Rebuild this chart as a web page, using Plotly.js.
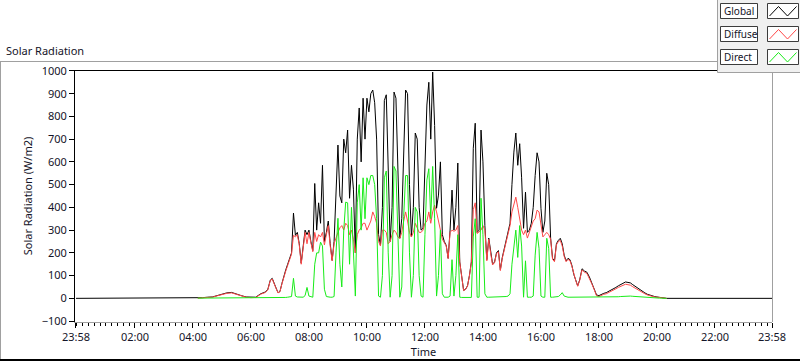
<!DOCTYPE html>
<html>
<head>
<meta charset="utf-8">
<script src="https://cdn.plot.ly/plotly-3.0.1.min.js"></script>
<style>
html,body{margin:0;padding:0;background:#fff;}
#chart{width:800px;height:361px;}
</style>
</head>
<body>
<div id="chart"></div>
<script>
// ---- Data (minutes after midnight, W/m2) ----
var minutes = [-2, 240, 250, 260, 270, 280, 290, 300, 310, 320, 330, 340, 350, 360, 370, 380, 390, 395,
  400, 404, 408, 412, 416, 420, 424, 428, 432, 436, 440, 444,
  448, 452, 456, 460, 464, 468, 472, 476, 480, 484, 488, 492,
  496, 500, 504, 508, 512, 516, 520, 524, 528, 532, 536, 540,
  544, 548, 552, 556, 560, 564, 568, 572, 576, 580, 584, 588,
  592, 596, 600, 604, 608, 612, 616, 620, 624, 628, 632, 636,
  640, 644, 648, 652, 656, 660, 664, 668, 672, 676, 680, 684,
  688, 692, 696, 700, 704, 708, 712, 716, 720, 724, 728, 732,
  736, 740, 744, 748, 752, 756, 760, 764, 768, 772, 776, 780,
  784, 788, 792, 796, 800, 804, 808, 812, 816, 820, 824, 828,
  832, 836, 840, 844, 848, 852, 856, 860, 864, 868, 872, 876,
  880, 884, 888, 892, 896, 900, 904, 908, 912, 916, 920, 924,
  928, 932, 936, 940, 944, 948, 952, 956, 960, 964, 968, 972,
  976, 980, 984, 988, 992, 996, 1000, 1004, 1008, 1012, 1016, 1020,
  1024, 1028, 1032, 1036, 1040,
  1045, 1050, 1055, 1060, 1065, 1070, 1075, 1080, 1085, 1090,
  1095, 1100, 1105, 1110, 1115, 1120, 1125, 1130, 1135, 1140,
  1145, 1150, 1155, 1160, 1165, 1170, 1175, 1180, 1185, 1190,
  1195, 1200, 1205, 1210, 1215, 1220, 1438];

var globalRad = [0, 0, 2, 3, 5, 6, 12, 18, 24, 26, 18, 12, 6, 4, 5, 20, 28, 40,
  80, 88, 70, 45, 25, 30, 65, 100, 125, 150, 175, 200,
  375, 277, 290, 240, 155, 230, 300, 280, 300, 250, 210, 505,
  300, 420, 330, 585, 250, 290, 340, 240, 167, 250, 500, 674,
  450, 420, 700, 640, 740, 440, 585, 480, 200, 700, 837, 600,
  880, 700, 880, 820, 900, 916, 860, 700, 280, 233, 400, 870,
  895, 500, 250, 400, 907, 880, 600, 264, 350, 700, 916, 900,
  500, 270, 400, 727, 700, 400, 300, 308, 600, 850, 950, 700,
  995, 760, 396, 454, 600, 280, 250, 233, 176, 300, 476, 300,
  400, 595, 160, 100, 35, 40, 55, 100, 160, 660, 770, 290,
  300, 740, 600, 320, 170, 265, 200, 150, 160, 200, 210, 125,
  180, 220, 260, 290, 330, 500, 643, 727, 585, 680, 530, 308,
  467, 290, 300, 330, 400, 540, 640, 600, 396, 290, 340, 550,
  500, 265, 176, 165, 240, 255, 264, 240, 190, 165, 176, 170,
  145, 105, 80, 55, 80,
  130, 120, 115, 95, 70, 45, 15, 12, 18, 22,
  25, 30, 35, 40, 48, 55, 60, 65, 72, 70,
  68, 60, 52, 45, 38, 30, 24, 18, 14, 11,
  8, 6, 4, 3, 1, 0, 0];

var diffuseRad = [null, null, 1, 2, 4, 5, 11, 17, 22, 24, 17, 11, 5, 3, 4, 18, 26, 38,
  78, 85, 68, 44, 24, 29, 63, 97, 120, 145, 170, 195,
  277, 270, 280, 235, 150, 225, 290, 240, 290, 245, 205, 290,
  250, 280, 270, 290, 235, 280, 320, 230, 165, 240, 270, 290,
  310, 320, 300, 330, 320, 280, 300, 260, 200, 280, 300, 310,
  330, 330, 300, 320, 340, 380, 360, 330, 250, 230, 300, 300,
  290, 240, 250, 280, 300, 290, 270, 264, 290, 340, 380, 340,
  290, 270, 290, 330, 310, 290, 290, 300, 330, 340, 380, 330,
  380, 410, 380, 340, 290, 260, 245, 230, 175, 290, 300, 295,
  300, 320, 158, 98, 34, 39, 54, 98, 158, 390, 420, 285,
  295, 300, 320, 300, 165, 260, 196, 147, 157, 196, 205, 122,
  176, 214, 253, 280, 320, 380, 420, 445, 400, 340, 300, 280,
  300, 265, 290, 320, 340, 350, 388, 380, 330, 270, 280, 290,
  280, 260, 172, 161, 235, 250, 255, 230, 185, 161, 171, 166,
  141, 102, 78, 53, 78,
  125, 115, 110, 90, 65, 40, 11, 8, 14, 18,
  20, 25, 30, 34, 42, 48, 52, 56, 62, 60,
  58, 51, 44, 38, 32, 25, 20, 15, 11, 9,
  6, 5, 3, 2, 1, 0, null];

var directRad = [null, null, 1, 1, 1, 1, 1, 2, 2, 2, 2, 2, 2, 2, 2, 2, 2, 3,
  3, 4, 4, 3, 3, 3, 3, 4, 4, 5, 5, 8,
  88, 10, 6, 5, 5, 5, 12, 48, 10, 8, 5, 150,
  200, 200, 247, 230, 40, 8, 5, 5, 5, 8, 200, 352,
  150, 50, 300, 423, 420, 150, 400, 200, 10, 420, 500, 300,
  530, 350, 530, 500, 540, 540, 500, 350, 10, 5, 100, 530,
  560, 200, 5, 100, 580, 560, 300, 5, 50, 360, 540, 540,
  200, 5, 100, 400, 380, 100, 10, 5, 280, 520, 570, 350,
  580, 350, 10, 100, 300, 20, 5, 5, 5, 10, 170, 10,
  100, 280, 5, 4, 4, 4, 4, 4, 4, 270, 350, 5,
  5, 440, 280, 20, 5, 5, 5, 5, 5, 5, 5, 5,
  5, 6, 8, 10, 20, 150, 220, 300, 180, 320, 230, 5,
  165, 5, 5, 5, 10, 190, 290, 220, 10, 5, 5, 264,
  220, 5, 5, 5, 5, 8, 15, 25, 10, 6, 5, 5,
  5, 5, 5, 5, 5,
  5, 5, 5, 5, 5, 5, 4, 4, 4, 4,
  5, 5, 5, 6, 6, 7, 8, 9, 10, 10,
  10, 9, 8, 7, 6, 5, 4, 3, 3, 2,
  2, 1, 1, 1, 0, 0, null];

var seriesNames = ['Global', 'Diffuse', 'Direct'];
var seriesColors = ['#000000', '#ff4848', '#18ec18'];

var xTickVals = [-2, 120, 240, 360, 480, 600, 720, 840, 960, 1080, 1200, 1320, 1438];
var xTickText = ['23:58', '02:00', '04:00', '06:00', '08:00', '10:00', '12:00', '14:00', '16:00', '18:00', '20:00', '22:00', '23:58'];

// ---- Layout geometry (pixels) ----
var W = 800, H = 361, ML = 75, MR = 28, MT = 70, MB = 39;
var PW = W - ML - MR, PH = H - MT - MB;
function px(x) { return (x - ML) / PW; }
function py(y) { return (H - MB - y) / PH; }

var FONT = '"Noto Sans", "DejaVu Sans", sans-serif';
var TXT = '#141428';

var traces = [
  {x: minutes, y: globalRad, name: seriesNames[0], type: 'scatter', mode: 'lines',
   line: {color: seriesColors[0], width: 1}, connectgaps: false},
  {x: minutes, y: diffuseRad, name: seriesNames[1], type: 'scatter', mode: 'lines',
   line: {color: seriesColors[1], width: 1}, connectgaps: false},
  {x: minutes, y: directRad, name: seriesNames[2], type: 'scatter', mode: 'lines',
   line: {color: seriesColors[2], width: 1}, connectgaps: false}
];

function line(x0, y0, x1, y1, color, w) {
  return {type: 'line', xref: 'paper', yref: 'paper', x0: px(x0), y0: py(y0), x1: px(x1), y1: py(y1),
    line: {color: color, width: w || 1}, layer: 'above'};
}
function rect(x0, y0, x1, y1, fill, color, w) {
  return {type: 'rect', xref: 'paper', yref: 'paper', x0: px(x0), y0: py(y0), x1: px(x1), y1: py(y1),
    fillcolor: fill, line: {color: color, width: w === undefined ? 1 : w}, layer: 'above'};
}
function zig(x0, y0, x1, y1, color) {
  var xs = [x0, x0 + (x1 - x0) / 3, x0 + 2 * (x1 - x0) / 3, x1];
  var ys = [y1, y0, y1, y0];
  var p = '';
  for (var i = 0; i < 4; i++) {
    p += (i ? ' L ' : 'M ') + px(xs[i]) + ' ' + py(ys[i]);
  }
  return {type: 'path', xref: 'paper', yref: 'paper', path: p, line: {color: color, width: 1}, layer: 'above'};
}

var shapes = [
  line(0, 61.5, 717, 61.5, '#a0a0a0', 1),
  line(0.5, 61, 0.5, 360, '#a0a0a0', 1),
  line(0, 360, 800, 360, '#000000', 2),
  line(75, 70.5, 772, 70.5, '#000000', 1),
  line(772.5, 70, 772.5, 322, '#a0a0a0', 1),
  rect(717.5, -5, 805, 72.5, '#f0f0f0', '#a0a0a0', 1)
];
var annotations = [
  {text: 'Solar Radiation', xref: 'paper', yref: 'paper', x: px(4), y: py(50), xanchor: 'left', yanchor: 'middle',
   showarrow: false, font: {family: FONT, size: 11, color: TXT}}
];
var boxTops = [3.5, 26.5, 49.5];
for (var i = 0; i < 3; i++) {
  var t0 = boxTops[i], t1 = t0 + 15;
  shapes.push(rect(720.5, t0, 757.5, t1, '#ffffff', '#3c3c3c', 1));
  shapes.push(rect(767.5, t0, 798.5, t1, '#ffffff', '#3c3c3c', 1));
  shapes.push(zig(769.5, t0 + 3, 796.5, t1 - 2.5, seriesColors[i]));
  annotations.push({text: seriesNames[i], xref: 'paper', yref: 'paper', x: px(722), y: py(t0 + 7.5),
    xanchor: 'left', yanchor: 'middle', showarrow: false, font: {family: FONT, size: 10, color: TXT}});
}

var layout = {
  width: W, height: H,
  margin: {l: ML, r: MR, t: MT, b: MB, pad: 0},
  paper_bgcolor: '#ffffff', plot_bgcolor: '#ffffff',
  showlegend: false,
  font: {family: FONT, size: 11, color: TXT},
  xaxis: {
    range: [-4, 1438], tickmode: 'array', tickvals: xTickVals, ticktext: xTickText,
    ticks: 'outside', ticklen: 5, tickwidth: 1, tickcolor: '#000000',
    showline: true, linecolor: '#a0a0a0', linewidth: 1, showgrid: false, zeroline: false,
    tickfont: {family: FONT, size: 11, color: TXT},
    minor: {ticks: 'outside', ticklen: 3, tickwidth: 1, tickcolor: '#000000', tick0: 0, dtick: 12, showgrid: false},
    title: {text: 'Time', font: {family: FONT, size: 11, color: TXT}, standoff: 3}
  },
  yaxis: {
    range: [-104, 1004], tickmode: 'linear', tick0: 0, dtick: 100,
    ticks: 'outside', ticklen: 5, tickwidth: 1, tickcolor: '#000000',
    showline: true, linecolor: '#000000', linewidth: 1, showgrid: false, zeroline: false,
    tickfont: {family: FONT, size: 11, color: TXT},
    title: {text: 'Solar Radiation (W/m2)', font: {family: FONT, size: 11, color: TXT}, standoff: 6}
  },
  shapes: shapes,
  annotations: annotations
};

Plotly.newPlot('chart', traces, layout, {staticPlot: true, displayModeBar: false});
</script>
</body>
</html>
